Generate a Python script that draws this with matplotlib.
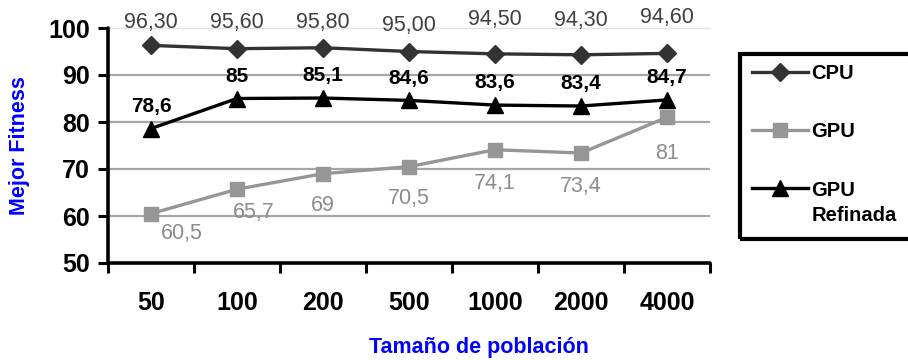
import numpy as np
import matplotlib
matplotlib.use("Agg")
import matplotlib.pyplot as plt
from matplotlib.patches import Rectangle

plt.rcParams['font.family'] = ['Liberation Sans', 'DejaVu Sans']

categories = ["50", "100", "200", "500", "1000", "2000", "4000"]
cpu = [96.30, 95.60, 95.80, 95.00, 94.50, 94.30, 94.60]
gpu = [60.5, 65.7, 69, 70.5, 74.1, 73.4, 81]
gpu_ref = [78.6, 85, 85.1, 84.6, 83.6, 83.4, 84.7]

# label offsets (points), Excel placed these a bit loosely
cpu_offsets = [16.5, 19, 18.5, 18.7, 24.5, 24.7, 25.5]
gpu_offsets = [(22, -14), (12, -17), (0, -23), (0, -23), (0, -24), (0, -24), (0, -26)]

x = np.arange(len(categories))

fig = plt.figure(figsize=(9.08, 3.6), dpi=100)
ax = fig.add_axes([108 / 908, 1 - 263 / 360, (710 - 108) / 908, (263 - 28) / 360])

ax.set_xlim(-0.5, len(categories) - 0.5)
ax.set_ylim(50, 100)

# gridlines
for v in [60, 70, 80, 90]:
    ax.axhline(v, color='#a6a6a6', lw=1.6, zorder=1)
ax.axhline(100, color='#e3e3e3', lw=1.0, zorder=1, clip_on=False)

ax.plot(x, cpu, color='#333333', lw=2.4, marker='D', markersize=9, zorder=4, label='CPU')
ax.plot(x, gpu, color='#969696', lw=2.4, marker='s', markersize=9.5, zorder=3, label='GPU')
ax.plot(x, gpu_ref, color='black', lw=2.4, marker='^', markersize=11, zorder=5, label='GPU')

for i, v in enumerate(cpu):
    ax.annotate(f"{v:.2f}".replace('.', ','), (x[i], v), xytext=(0, cpu_offsets[i]), textcoords='offset points',
                ha='center', va='center', fontsize=15.5, color='#404040', annotation_clip=False)
for i, v in enumerate(gpu):
    ax.annotate(f"{v:g}".replace('.', ','), (x[i], v), xytext=gpu_offsets[i], textcoords='offset points',
                ha='center', va='center', fontsize=15.5, color='#8c8c8c', zorder=6)
for i, v in enumerate(gpu_ref):
    ax.annotate(f"{v:g}".replace('.', ','), (x[i], v), xytext=(0, 16), textcoords='offset points',
                ha='center', va='center', fontsize=15, fontweight='bold', color='black', zorder=6)

# axes styling
for s in ['top', 'right']:
    ax.spines[s].set_visible(False)
for s in ['left', 'bottom']:
    ax.spines[s].set_linewidth(2.6)
    ax.spines[s].set_capstyle('round')

ax.set_yticks([50, 60, 70, 80, 90, 100])
ax.tick_params(axis='y', length=7, width=2.2, pad=6, labelsize=18)
for t in ax.get_yticklabels():
    t.set_fontweight('bold')

ax.set_xticks(x)
ax.set_xticklabels(categories, fontsize=18, fontweight='bold')
ax.set_xticks(np.arange(len(categories) + 1) - 0.5, minor=True)
ax.tick_params(axis='x', which='major', length=0, pad=20)
ax.tick_params(axis='x', which='minor', length=7, width=2.2)

fig.text(20 / 908, 1 - 146 / 360, "Mejor Fitness", rotation=90, ha='center', va='center',
         fontsize=15.5, fontweight='bold', color='#0000ff')
fig.text(479 / 908, 1 - 347 / 360, "Tamaño de población", ha='center', va='center',
         fontsize=15.5, fontweight='bold', color='#0000ff')

# legend with a thick frame running off the right edge
leg = fig.legend(loc='upper left', bbox_to_anchor=(752 / 908, 1 - 64 / 360), frameon=False,
                 fontsize=14.5, handlelength=2.8, handletextpad=0.15, labelspacing=1.95,
                 borderaxespad=0, borderpad=0)
for t in leg.get_texts():
    t.set_fontweight('bold')
fig.patches.append(Rectangle((740 / 908, 1 - 239 / 360), 0.3, (239 - 54) / 360,
                             transform=fig.transFigure, fill=False, lw=3, ec='black'))

# second line of the last legend label, hung under "GPU" so the marker stays on the first line
fig.canvas.draw()
bb = leg.get_texts()[2].get_window_extent().transformed(fig.transFigure.inverted())
fig.text(bb.x0, bb.y0 - 6 / 360, "Refinada", ha='left', va='top', fontsize=14.5, fontweight='bold')

fig.savefig("out.png", dpi=100)
